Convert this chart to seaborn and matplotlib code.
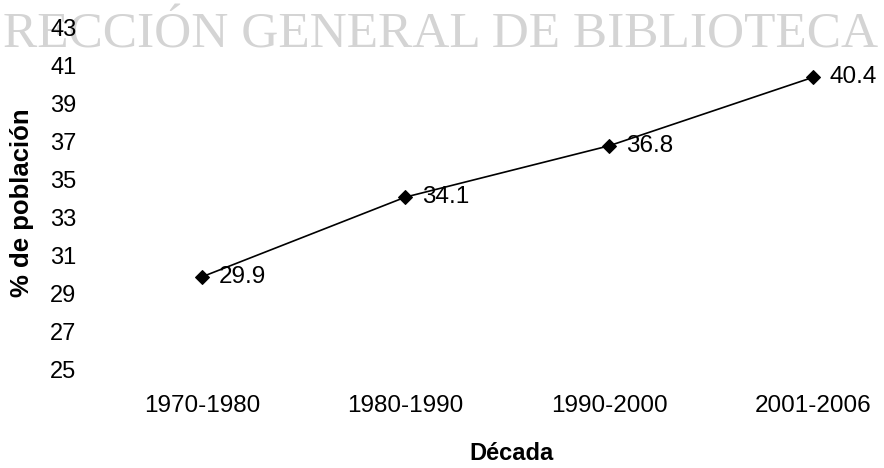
import matplotlib
matplotlib.use("Agg")
import matplotlib.pyplot as plt
import seaborn as sns
import pandas as pd

decades = ["1970-1980", "1980-1990", "1990-2000", "2001-2006"]
values = [29.9, 34.1, 36.8, 40.4]
y_ticks = [25, 27, 29, 31, 33, 35, 37, 39, 41, 43]
watermark = "RECCIÓN GENERAL DE BIBLIOTECA"

sns.set_theme(style="white")
plt.rcParams["font.family"] = ["Liberation Sans", "DejaVu Sans"]

df = pd.DataFrame({"Década": decades, "pct": values})

fig = plt.figure(figsize=(8.84, 4.68), dpi=100)
fig.patch.set_facecolor("white")
ax = fig.add_axes([100 / 884, 98 / 468, 784 / 884, 342 / 468])
ax.set_facecolor("none")

fig.text(3 / 884, 1 - 48 / 468, watermark, family=["Liberation Serif", "DejaVu Serif"],
         fontsize=37, color="#d4d4d4", ha="left", va="baseline", zorder=-5)

sns.lineplot(data=df, x="Década", y="pct", sort=False, ax=ax, color="black",
             linewidth=1.2, marker="D", markersize=7, markeredgecolor="black")

for i, v in enumerate(values):
    ax.annotate(f"{v}", (i, v), xytext=(12, 0), textcoords="offset points",
                ha="left", va="center", fontsize=17.5, color="black")

ax.set_xlim(-0.5, 3.35)
ax.set_ylim(25, 43)
ax.set_yticks(y_ticks)
ax.set_yticklabels([str(t) for t in y_ticks])
ax.tick_params(axis="y", length=0, pad=17, labelsize=17, colors="black")
ax.tick_params(axis="x", length=0, pad=18, labelsize=17.5, colors="black")
for s in ax.spines.values():
    s.set_visible(False)

ax.set_ylabel("% de población", fontsize=18.5, fontweight="bold", color="black")
ax.yaxis.set_label_coords(-0.0995, 0.49)
ax.yaxis.label.set_va("center")
ax.set_xlabel("Década", fontsize=17, fontweight="bold", color="black")
ax.xaxis.set_label_coords(0.525, -0.243)
ax.xaxis.label.set_va("center")

fig.savefig("out.png", dpi=100, facecolor="white")
